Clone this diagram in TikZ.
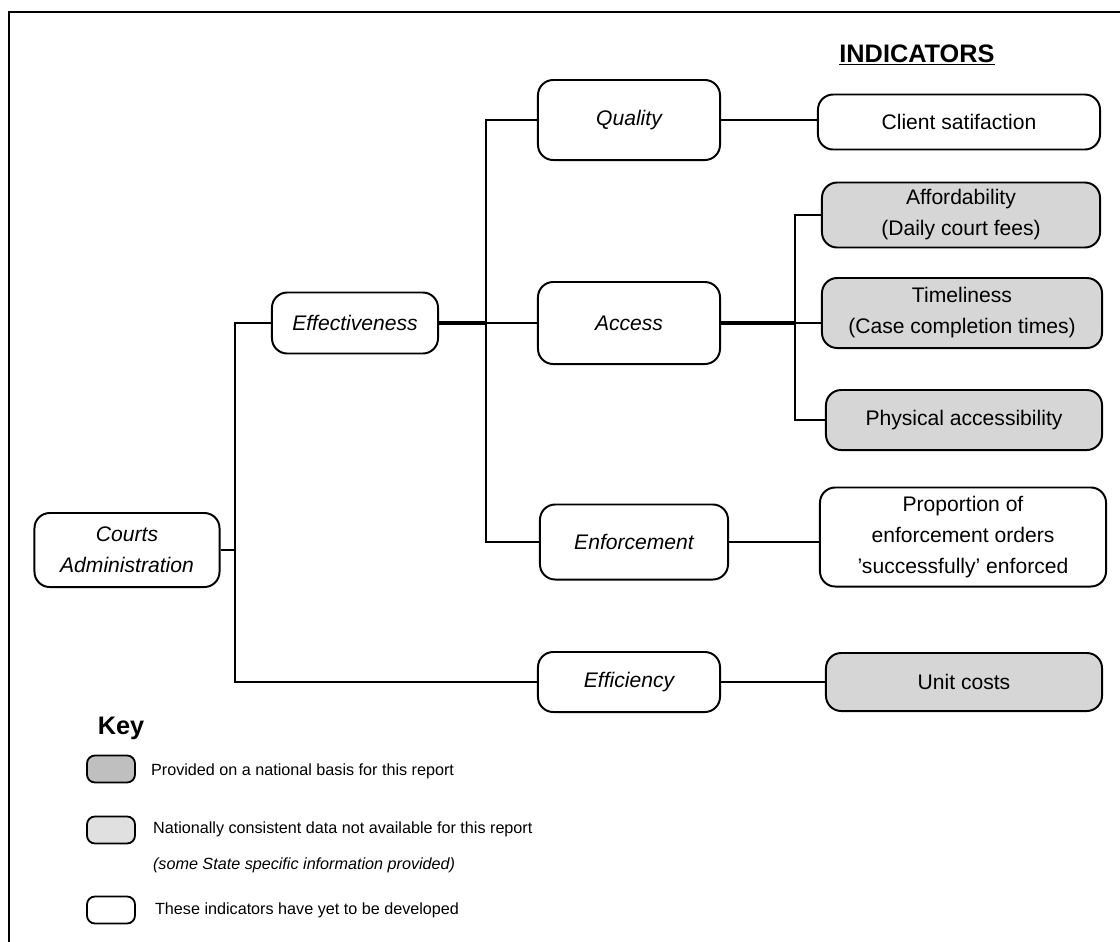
\documentclass[tikz,border=0pt]{standalone}
\usepackage{fontspec}
\setmainfont{Liberation Sans}
\tikzset{every node/.style={font=\fontsize{15}{22}\selectfont, align=center, inner sep=2pt},
  branch/.style={draw, line width=1.4pt, rounded corners=0.38cm, font=\fontsize{15}{22}\selectfont\itshape},
  indicator/.style={draw, line width=1.4pt, rounded corners=0.38cm},
  national/.style={indicator, fill=black!16},
  keybox/.style={draw, line width=1.3pt, rounded corners=0.2cm, minimum width=1.2cm, minimum height=0.675cm},
  keytext/.style={anchor=west, font=\fontsize{11.5}{14}\selectfont},
  link/.style={line width=1.4pt},
  heavylink/.style={line width=2.2pt}}

\begin{document}
\begin{tikzpicture}[x=0.025cm, y=-0.025cm]
  \useasboundingbox (0,0) rectangle (1120,942);
  \draw[line width=2pt] (9,942) |- (1120,12);

  \node[font=\fontsize{18}{22}\selectfont\bfseries] (ind) at (917,55) {\underline{INDICATORS}};

  % tree
  \node[branch, minimum width=4.625cm, minimum height=1.85cm] (courts) at (127,550) {Courts\\Administration};
  \node[branch, minimum width=4.15cm, minimum height=1.525cm] (effn) at (355,323) {Effectiveness};
  \node[branch, minimum width=4.55cm, minimum height=2cm] (qual) at (629,120) {Quality};
  \node[branch, minimum width=4.55cm, minimum height=2.05cm] (acc) at (629,323) {Access};
  \node[branch, minimum width=4.7cm, minimum height=1.875cm] (enf) at (634,542) {Enforcement};
  \node[branch, minimum width=4.55cm, minimum height=1.5cm] (effy) at (629,682) {Efficiency};

  % indicators
  \node[indicator, minimum width=7.05cm, minimum height=1.375cm] (client) at (959,122) {Client satifaction};
  \node[national, minimum width=6.95cm, minimum height=1.625cm] (afford) at (961,215) {Affordability\\(Daily court fees)};
  \node[national, minimum width=7cm, minimum height=1.75cm] (time) at (962,313) {Timeliness\\(Case completion times)};
  \node[national, minimum width=6.9cm, minimum height=1.5cm] (phys) at (964,420) {Physical accessibility};
  \node[indicator, minimum width=7.15cm, minimum height=2.475cm] (prop) at (963,537) {Proportion of\\enforcement orders\\'successfully' enforced};
  \node[national, minimum width=6.9cm, minimum height=1.45cm] (unit) at (964,682) {Unit costs};

  \coordinate (j0) at (235,550);
  \coordinate (j1) at (486,323);
  \coordinate (j2) at (795,323);
  \draw[link] (courts.east) -- (j0);
  \draw[link] (j0) |- (effn.west);
  \draw[link] (j0) |- (effy.west);
  \draw[heavylink] (effn.east) -- (j1);
  \draw[link] (j1) -- (acc.west);
  \draw[link] (j1) |- (qual.west);
  \draw[link] (j1) |- (enf.west);
  \draw[heavylink] (acc.east) -- (j2);
  \draw[link] (j2) -- (j2 -| time.west);
  \draw[link] (j2) |- (afford.west);
  \draw[link] (j2) |- (phys.west);
  \draw[link] (qual.east) -- (qual.east -| client.west);
  \draw[link] (enf.east) -- (enf.east -| prop.west);
  \draw[link] (effy.east) -- (unit.west);

  % key
  \node[font=\fontsize{18}{22}\selectfont\bfseries] (key) at (121,728) {Key};
  \node[keybox, fill=black!25] (k1) at (111,769) {};
  \node[keybox, fill=black!12] (k2) at (111,830) {};
  \node[keybox] (k3) at (111,910) {};
  \node[keytext] (t1) at (148,771) {Provided on a national basis for this report};
  \node[keytext] (t2) at (150,829) {Nationally consistent data not available for this report};
  \node[keytext, font=\fontsize{11.5}{14}\selectfont\itshape] (t3) at (150,865) {(some State specific information provided)};
  \node[keytext] (t4) at (152,910) {These indicators have yet to be developed};
\end{tikzpicture}
\end{document}
